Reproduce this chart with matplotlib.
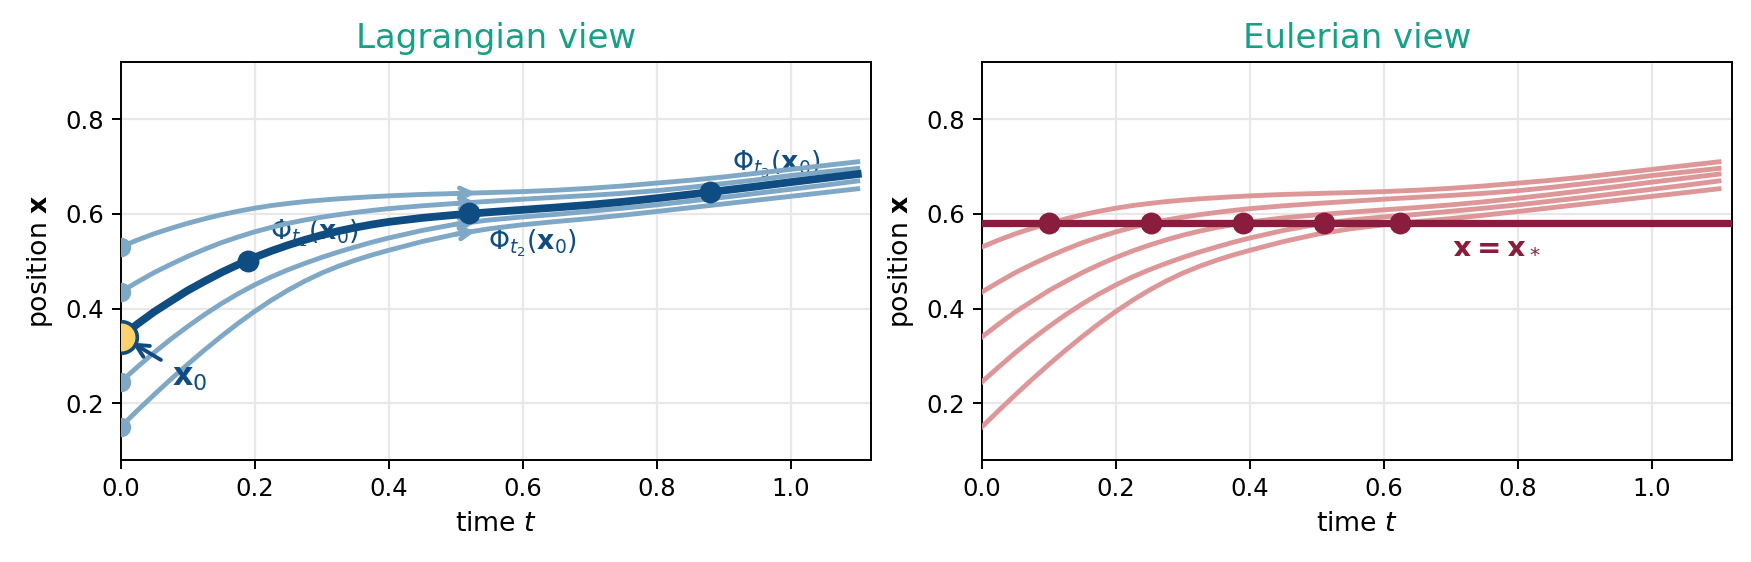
import numpy as np
import matplotlib.pyplot as plt

# time samples the trajectories were read at
t = [0.0, 0.025, 0.05, 0.075, 0.1, 0.125, 0.15, 0.175, 0.2, 0.225, 0.25,
     0.275, 0.3, 0.325, 0.35, 0.375, 0.4, 0.45, 0.5, 0.55, 0.6, 0.65, 0.7,
     0.75, 0.8, 0.85, 0.9, 0.95, 1.0, 1.05, 1.1]

# five trajectories, bottom to top (x_c is the highlighted one)
x_a = [0.150, 0.1845, 0.218, 0.2506, 0.282, 0.3122, 0.341, 0.3684, 0.394,
       0.4176, 0.439, 0.4581, 0.475, 0.4894, 0.502, 0.5131, 0.523, 0.5415,
       0.557, 0.5685, 0.577, 0.5838, 0.590, 0.5973, 0.605, 0.613, 0.621,
       0.629, 0.637, 0.645, 0.653]
x_b = [0.245, 0.2765, 0.307, 0.3355, 0.362, 0.387, 0.410, 0.431, 0.450,
       0.467, 0.482, 0.4955, 0.508, 0.5195, 0.530, 0.540, 0.549, 0.565,
       0.578, 0.587, 0.5935, 0.599, 0.6055, 0.612, 0.619, 0.627, 0.635,
       0.6435, 0.652, 0.6605, 0.6695]
x_c = [0.340, 0.3672, 0.393, 0.4157, 0.438, 0.4574, 0.476, 0.4926, 0.508,
       0.5217, 0.534, 0.5451, 0.555, 0.5636, 0.571, 0.5775, 0.583, 0.5915,
       0.598, 0.6035, 0.6085, 0.6135, 0.619, 0.6255, 0.633, 0.641, 0.6495,
       0.658, 0.667, 0.6755, 0.684]
x_d = [0.435, 0.4560, 0.476, 0.4935, 0.510, 0.5250, 0.539, 0.5510, 0.562,
       0.5715, 0.580, 0.5870, 0.593, 0.5983, 0.603, 0.6072, 0.611, 0.617,
       0.622, 0.6265, 0.631, 0.635, 0.639, 0.6435, 0.649, 0.656, 0.664,
       0.672, 0.681, 0.6885, 0.696]
x_e = [0.530, 0.5447, 0.558, 0.5694, 0.580, 0.5895, 0.598, 0.6055, 0.612,
       0.6176, 0.622, 0.6259, 0.629, 0.6318, 0.634, 0.6362, 0.638, 0.641,
       0.643, 0.645, 0.647, 0.650, 0.654, 0.659, 0.665, 0.671, 0.678,
       0.686, 0.694, 0.702, 0.710]
curves = [x_a, x_b, x_c, x_d, x_e]

# marked points on the highlighted trajectory
t_marks = [0.19, 0.52, 0.88]
x_marks = [0.500, 0.601, 0.646]
t_arrow = 0.53

# Eulerian probe
x_star = 0.58
t_cross = [0.100, 0.253, 0.390, 0.511, 0.624]

TEAL = '#16a085'
DARK = '#0f4c81'
LIGHT = '#7fa8c6'
PINK = '#de9798'
MAROON = '#8a1c3e'
YELLOW = '#fdd26c'

fig = plt.figure(figsize=(1751 / 175, 562 / 175), dpi=175)
axL = fig.add_axes([0.0689, 0.1815, 0.4286, 0.7075])
axR = fig.add_axes([0.5608, 0.1815, 0.4286, 0.7075])

for ax in (axL, axR):
    ax.set_xlim(0, 1.12)
    ax.set_ylim(0.08, 0.92)
    ax.set_xticks([0.0, 0.2, 0.4, 0.6, 0.8, 1.0])
    ax.set_yticks([0.2, 0.4, 0.6, 0.8])
    ax.grid(True, color='#e8e8e8', lw=0.9)
    ax.set_axisbelow(True)
    ax.tick_params(labelsize=10)
    ax.set_xlabel('time $t$', fontsize=11)
    ax.set_ylabel(r'position $\mathbf{x}$', fontsize=11)

# --- Lagrangian ---
for i, xs in enumerate(curves):
    if i == 2:
        axL.plot(t, xs, color=DARK, lw=3.2, zorder=4, solid_joinstyle='round')
        continue
    axL.plot(t, xs, color=LIGHT, lw=2, zorder=3, solid_joinstyle='round')
    axL.plot(t[0], xs[0], 'o', color=LIGHT, ms=7, zorder=3)
    tip = np.interp(t_arrow, t, xs)
    tail = np.interp(t_arrow - 0.03, t, xs)
    axL.annotate('', xy=(t_arrow, tip), xytext=(t_arrow - 0.03, tail),
                 arrowprops=dict(arrowstyle='->', color=LIGHT, lw=2,
                                 mutation_scale=11, shrinkA=0, shrinkB=0),
                 zorder=3)

axL.plot(t_marks, x_marks, 'o', color=DARK, ms=8, zorder=5)
axL.plot(t[0], x_c[0], 'o', ms=13, mfc=YELLOW, mec=DARK, mew=1.5, zorder=6)

axL.text(0.223, 0.56, r'$\Phi_{t_1}(\mathbf{x}_0)$', color=DARK, fontsize=11,
         va='center', zorder=2)
axL.text(0.548, 0.539, r'$\Phi_{t_2}(\mathbf{x}_0)$', color=DARK, fontsize=11,
         va='center', zorder=2)
axL.text(0.912, 0.706, r'$\Phi_{t_3}(\mathbf{x}_0)$', color=DARK, fontsize=11,
         va='center', zorder=2)
axL.annotate(r'$\mathbf{x}_0$', xy=(0.017, 0.328), xytext=(0.103, 0.255),
             color=DARK, fontsize=13, ha='center', va='center',
             arrowprops=dict(arrowstyle='->', color=DARK, lw=1.6,
                             shrinkA=3, shrinkB=0), zorder=7)
axL.set_title('Lagrangian view', color=TEAL, fontsize=14)

# --- Eulerian ---
for xs in curves:
    axR.plot(t, xs, color=PINK, lw=2, zorder=3, solid_joinstyle='round')
axR.axhline(x_star, color=MAROON, lw=3, zorder=4)
axR.plot(t_cross, [x_star] * len(t_cross), 'o', color=MAROON, ms=8, zorder=5)
axR.text(0.701, 0.535, r'$\mathbf{x = x}_*$', color=MAROON, fontsize=12,
         va='center', zorder=6)
axR.set_title('Eulerian view', color=TEAL, fontsize=14)

fig.savefig('out.png', dpi=175)
